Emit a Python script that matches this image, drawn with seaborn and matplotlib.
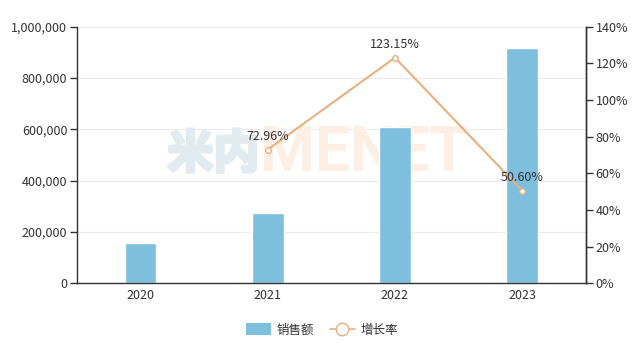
import matplotlib
matplotlib.use("Agg")
import matplotlib.pyplot as plt
import matplotlib.patheffects as pe
from matplotlib.patches import Patch
from matplotlib.lines import Line2D
from matplotlib.ticker import FuncFormatter, MultipleLocator, FixedLocator
import seaborn as sns
import pandas as pd

sns.set_theme(style="white")
plt.rcParams["font.family"] = ["Noto Sans CJK SC", "DejaVu Sans"]

# Data
years = ["2020", "2021", "2022", "2023"]
sales = [158000, 273000, 609000, 917000]
growth_years = ["2021", "2022", "2023"]
growth = [72.96, 123.15, 50.60]
series_names = ["销售额", "增长率"]

bar_color = "#7DBFDD"
line_color = "#E8B07E"
text_color = "#333333"

W, H = 644, 351
fig = plt.figure(figsize=(W / 100, H / 100), dpi=100)
left, right, top, bottom = 77, 585.7, 26.7, 283.3
ax = fig.add_axes([left / W, 1 - bottom / H, (right - left) / W, (bottom - top) / H])

df = pd.DataFrame({"year": years, "sales": sales})
sns.barplot(data=df, x="year", y="sales", color=bar_color, saturation=1,
            width=0.25, ax=ax, zorder=2)
ax.set_xlim(-0.5, len(years) - 0.5)
ax.set_ylim(0, 1_000_000)
ax.yaxis.set_major_locator(MultipleLocator(200_000))
ax.yaxis.set_major_formatter(FuncFormatter(lambda v, p: f"{int(v):,}"))
ax.set_xlabel("")
ax.set_ylabel("")
ax.set_axisbelow(True)
ax.grid(axis="y", color="#ebebeb", lw=0.8)
ax.grid(axis="x", visible=False)

# category boundary ticks on x
ax.xaxis.set_minor_locator(FixedLocator([i - 0.5 for i in range(len(years) + 1)]))
ax.tick_params(axis="x", which="major", length=0, pad=4, labelsize=9, labelcolor=text_color)
ax.tick_params(axis="x", which="minor", length=5, width=1, color=text_color, direction="out")
ax.tick_params(axis="y", length=5, width=1, color=text_color, direction="out",
               labelsize=9, labelcolor=text_color, pad=2, left=True)

for s in ["left", "bottom", "right"]:
    ax.spines[s].set_visible(True)
    ax.spines[s].set_color(text_color)
    ax.spines[s].set_linewidth(1)
ax.spines["top"].set_visible(False)

# watermark
wm_cn = "#E2EBEF"
wm_en = "#FDEFE4"
ax.text(0.178, 0.50, "米内", transform=ax.transAxes, fontsize=33, fontweight="bold",
        color=wm_cn, ha="left", va="center", zorder=1,
        path_effects=[pe.withStroke(linewidth=2.5, foreground=wm_cn)])
ax.text(0.36, 0.505, "MENET", transform=ax.transAxes, fontsize=45, fontweight="bold",
        family="Roboto", color=wm_en, ha="left", va="center", zorder=1)

# growth rate on secondary axis
ax2 = ax.twinx()
gx = [years.index(y) for y in growth_years]
sns.lineplot(x=gx, y=growth, ax=ax2, color=line_color, lw=1.5, marker="o",
             markersize=4, markerfacecolor="white", markeredgecolor=line_color,
             markeredgewidth=1)
ax2.set_ylim(0, 140)
ax2.set_xlim(-0.5, len(years) - 0.5)
ax2.yaxis.set_major_locator(MultipleLocator(20))
ax2.yaxis.set_major_formatter(FuncFormatter(lambda v, p: f"{int(v)}%"))
ax2.tick_params(axis="y", length=5, width=1, color=text_color, direction="out",
                labelsize=9, labelcolor=text_color, pad=2, right=True)
ax2.grid(False)
for s in ["left", "bottom", "top"]:
    ax2.spines[s].set_visible(False)
ax2.spines["right"].set_color(text_color)
ax2.spines["right"].set_linewidth(1)

for x, v in zip(gx, growth):
    ax2.annotate(f"{v:.2f}%", (x, v), xytext=(0, 5), textcoords="offset points",
                 ha="center", va="bottom", fontsize=9, color=text_color)

handles = [
    Patch(facecolor=bar_color, edgecolor="none"),
    Line2D([0], [0], color=line_color, lw=1.2, marker="o", markersize=9,
           markerfacecolor="white", markeredgecolor=line_color, markeredgewidth=1),
]
fig.legend(handles, series_names, loc="center", bbox_to_anchor=(0.5, 1 - 330 / H),
           ncol=2, frameon=False, fontsize=9, handlelength=2.0, handleheight=1.1,
           columnspacing=1.2, handletextpad=0.5, labelcolor=text_color)

fig.savefig("out.png", dpi=100, facecolor="white")
